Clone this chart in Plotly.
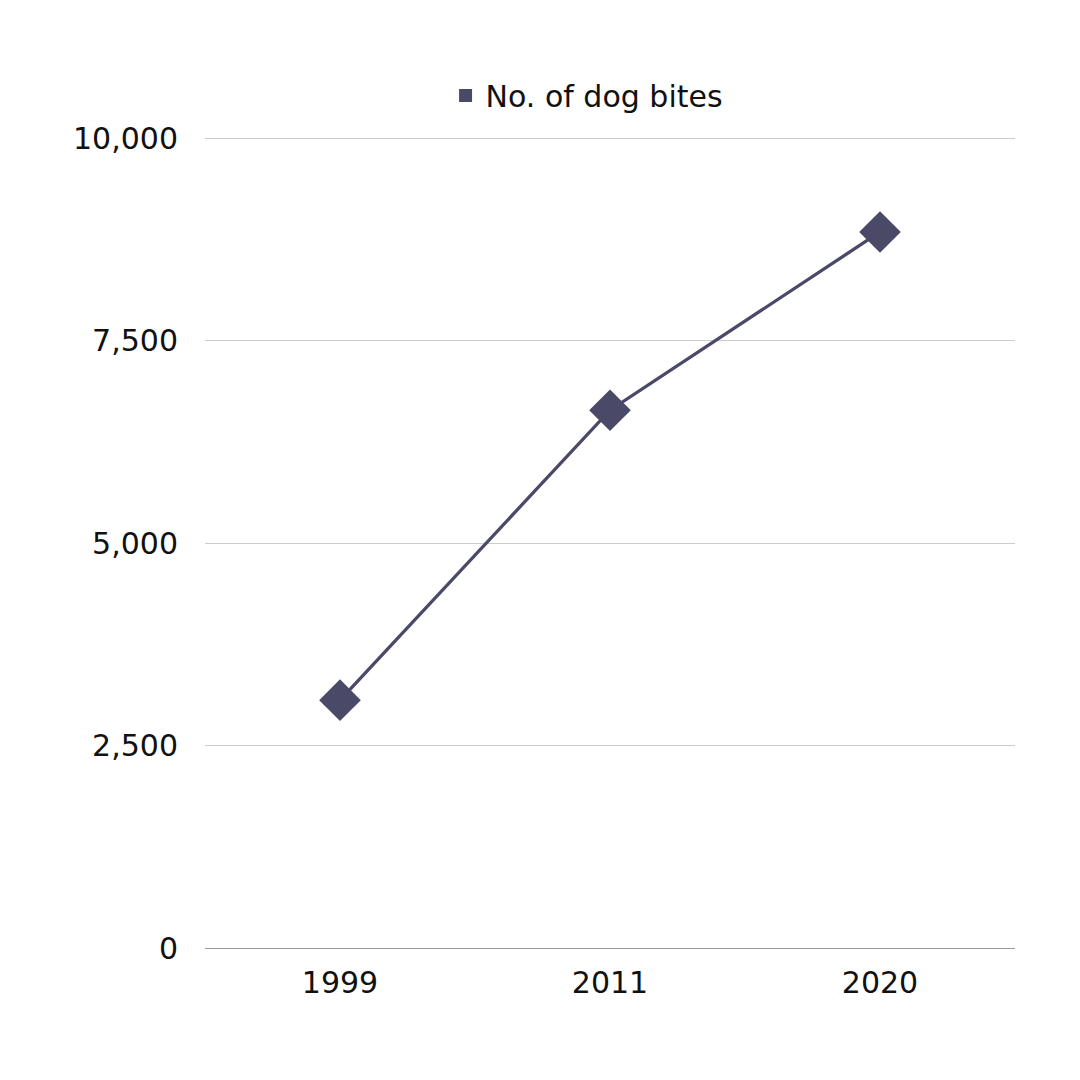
import plotly.graph_objects as go

years = ["1999", "2011", "2020"]
bites = [3060, 6640, 8840]
series_name = "No. of dog bites"
y_ticks = [0, 2500, 5000, 7500, 10000]
y_tick_labels = ["0", "2,500", "5,000", "7,500", "10,000"]

color = "#4a4a68"
font = "DejaVu Sans"

fig = go.Figure()
fig.add_trace(go.Scatter(
    x=years, y=bites, mode="lines+markers",
    line=dict(color=color, width=3.3),
    marker=dict(symbol="diamond", size=32, color=color),
    showlegend=False, cliponaxis=False,
))
fig.add_trace(go.Scatter(
    x=[None], y=[None], mode="markers", name=series_name,
    marker=dict(symbol="square", size=13, color=color),
    showlegend=True,
))

fig.update_layout(
    width=1080, height=1080,
    margin=dict(l=205, r=65, t=136, b=132),
    paper_bgcolor="white", plot_bgcolor="white",
    font=dict(family=font, size=30, color="#111111"),
    legend=dict(orientation="h", x=0.297, xanchor="left", y=1.05, yanchor="middle",
                font=dict(size=30), itemwidth=30, bgcolor="rgba(0,0,0,0)"),
    xaxis=dict(type="category", showgrid=False, showline=True, linecolor="#9a9a9a",
               linewidth=1.2, ticks="", ticklabelstandoff=8, range=[-0.5, 2.5]),
    yaxis=dict(range=[0, 10025], tickvals=y_ticks, ticktext=y_tick_labels,
               showgrid=True, gridcolor="#cccccc", gridwidth=1, zeroline=False,
               showline=False, ticks="", ticklabelstandoff=26),
)

fig.write_html("out.html", config={"displayModeBar": False},
               post_script="document.body.style.margin='0';")
